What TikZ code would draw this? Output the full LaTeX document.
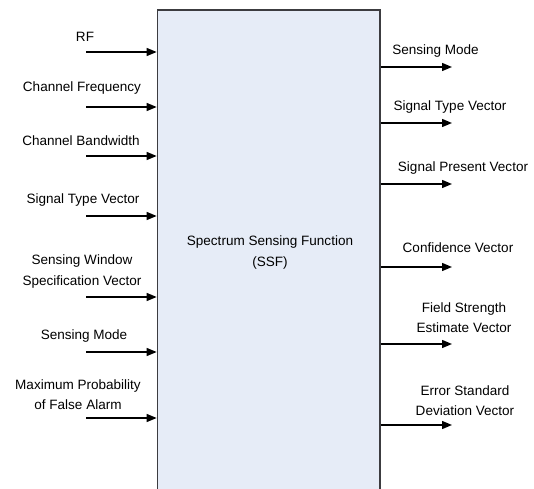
\documentclass[tikz,border=0pt]{standalone}
\usepackage{fontspec}
\setmainfont{Liberation Sans}
\usetikzlibrary{arrows.meta,calc}
\definecolor{ssffill}{RGB}{230,236,247}
\definecolor{ssfline}{RGB}{60,60,64}

\begin{document}
\begin{tikzpicture}
    [x=0.02cm, y=-0.02cm,
    block/.style={draw=ssfline, fill=ssffill, line width=1pt},
    signal/.style={-{Triangle[length=2mm,width=1.6mm]}, line width=0.8pt},
    lbl/.style={font=\fontsize{7.7}{11.4}\selectfont, align=center, inner sep=0pt}]
    \clip (0,0) rectangle (534,489);

    % the function block runs off the bottom edge
    \node[block, minimum width=4.45cm, minimum height=9.8cm] (ssf) at (268.75,255) {};
    \node[lbl] (title) at (270,252.5) {Spectrum Sensing Function\\(SSF)};

    % inputs
    \foreach \y/\n in {52/rf, 107/chfreq, 156/chbw, 216/sigtype, 297/window, 352/mode, 418/pfa}
    {
        \coordinate (\n) at (86,\y);
        \draw[signal] (\n) -- (\n -| ssf.west);
    }
    \node[lbl] (rflbl) at (85,37) {RF};
    \node[lbl] (chfreqlbl) at (82,88) {Channel Frequency};
    \node[lbl] (chbwlbl) at (81,141) {Channel Bandwidth};
    \node[lbl] (sigtypelbl) at (83,200) {Signal Type Vector};
    \node[lbl] (windowlbl) at (82,271.5) {Sensing Window\\Specification Vector};
    \node[lbl] (modelbl) at (84,336) {Sensing Mode};
    \node[lbl] (pfalbl) at (78,395) {Maximum Probability\\of False Alarm};

    % outputs
    \foreach \y/\n in {67/omode, 123/otype, 184/opresent, 267/oconf, 344/ofield, 425/oerror}
    {
        \coordinate (\n) at (452,\y);
        \draw[signal] (\n -| ssf.east) -- (\n);
    }
    \node[lbl] (omodelbl) at (435.5,51) {Sensing Mode};
    \node[lbl] (otypelbl) at (450,107) {Signal Type Vector};
    \node[lbl] (opresentlbl) at (463,168) {Signal Present Vector};
    \node[lbl] (oconflbl) at (458,248) {Confidence Vector};
    \node[lbl] (ofieldlbl) at (464,318) {Field Strength\\Estimate Vector};
    \node[lbl] (oerrorlbl) at (465,401) {Error Standard\\Deviation Vector};
\end{tikzpicture}
\end{document}
